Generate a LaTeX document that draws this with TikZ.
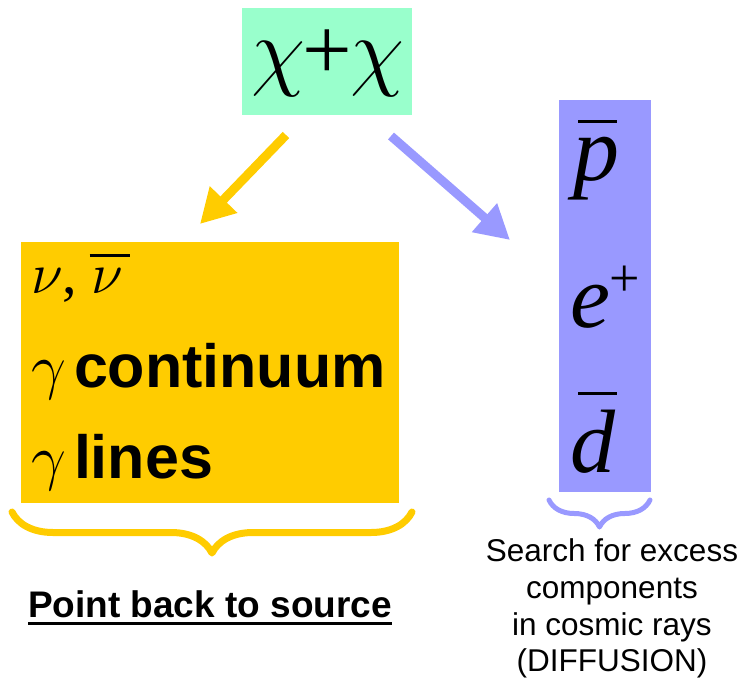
\RequirePackage{fix-cm}
\documentclass[tikz,border=0pt]{standalone}
\usepackage{fontspec}
\setmainfont{Liberation Serif}
\newfontfamily\arialf{Liberation Sans}
\usetikzlibrary{arrows.meta,decorations.pathreplacing}
\definecolor{mint}{RGB}{153,255,204}
\definecolor{gold}{RGB}{255,204,0}
\definecolor{lilac}{RGB}{153,153,255}
\newcommand\fsz[1]{\fontsize{#1}{#1}\selectfont}
% #1 offset, #2 raise, #3 width, #4 glyph
\newcommand\barred[4]{\makebox[0pt][l]{\hspace{#1}\rule[#2]{#3}{3pt}}#4}
\begin{document}
\begin{tikzpicture}[x=1pt,y=-1pt,
  boxfill/.style={inner sep=0pt, outer sep=0pt, draw=none},
  txt/.style={inner sep=0pt, outer sep=0pt},
  fatarrow/.style={line width=9pt, -{Triangle[length=34pt,width=36pt]}},
  bigbrace/.style={decorate, line cap=round, line join=round}]
\useasboundingbox (0,0) rectangle (742,683);
% boxes
\node[boxfill, fill=mint, minimum width=170pt, minimum height=107pt] (src) at (326.5,61.5) {};
\node[boxfill, fill=gold, minimum width=378pt, minimum height=261pt] (ybox) at (210,372.5) {};
\node[boxfill, fill=lilac, minimum width=92pt, minimum height=392pt] (bbox) at (605,296) {};
% source text
\node[txt, anchor=base] (chichi) at (328,79) {\fsz{88}$\chi$\hspace{-3pt}+\hspace{-2pt}$\chi$};
% yellow box text
\node[txt, anchor=base west] (nu) at (31,293) {\fsz{58}$\nu$, \barred{-2pt}{36pt}{40pt}{$\nu$}};
\node[txt, anchor=base west] (gcont) at (31,387) {\makebox[43pt][l]{\fsz{62}$\gamma$}\arialf\bfseries\fsz{61}continuum};
\node[txt, anchor=base west] (glines) at (31,478) {\makebox[43pt][l]{\fsz{62}$\gamma$}\arialf\bfseries\fsz{61}lines};
% blue box text
\node[txt, anchor=base west] (pbar) at (573,180) {\fsz{92}\itshape\barred{5pt}{57pt}{39pt}{p}};
\node[txt, anchor=base west] (epos) at (570,327) {\fsz{90}\itshape e\upshape\raisebox{31pt}{\fsz{54}+}};
\node[txt, anchor=base west] (dbar) at (570,472) {\fsz{90}\itshape\barred{8pt}{77pt}{39pt}{d}};
% arrows
\coordinate (ya) at (286,135);
\coordinate (yb) at (200,224);
\coordinate (ba) at (391,136);
\coordinate (bb) at (510,240);
\draw[gold, fatarrow] (ya) -- (yb);
\draw[lilac, fatarrow] (ba) -- (bb);
% braces
\draw[gold, line width=7pt, bigbrace, decoration={brace, amplitude=41pt}] (412,512) -- (12,512);
\draw[lilac, line width=5pt, bigbrace, decoration={brace, amplitude=27pt}] (650,500) -- (549,500);
% captions
\node[txt, anchor=base] (pback) at (210,617) {\arialf\bfseries\fsz{37}Point back to source};
\draw[line width=3pt] ([yshift=-6pt]pback.base west) -- ([yshift=-6pt]pback.base east);
\node[txt, anchor=north, align=center, font=\arialf\fontsize{31.5}{36.7}\selectfont] (search) at (612,539) {Search for excess\\components\\in cosmic rays\\(DIFFUSION)};
\end{tikzpicture}
\end{document}
